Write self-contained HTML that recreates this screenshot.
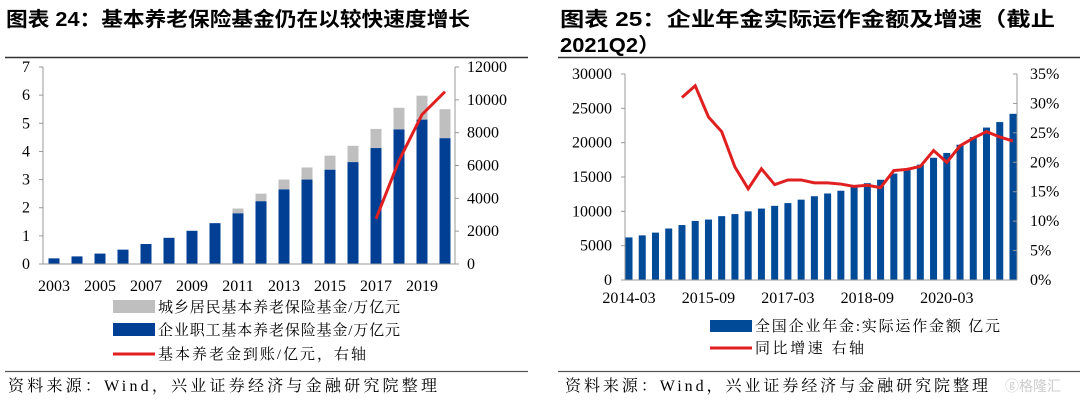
<!DOCTYPE html>
<html><head><meta charset="utf-8"><style>
body{margin:0;background:#fff;width:1080px;height:402px;overflow:hidden;font-family:"Liberation Serif","Noto Serif CJK SC",serif;}
</style></head><body>
<svg id="s" width="1080" height="402" xmlns="http://www.w3.org/2000/svg">
<g font-family="'Liberation Sans','Noto Sans CJK SC',sans-serif" font-weight="bold" font-size="20" fill="#000">
<text x="6" y="26" textLength="464" lengthAdjust="spacingAndGlyphs">图表 24：基本养老保险基金仍在以较快速度增长</text>
<text x="560" y="26" textLength="495" lengthAdjust="spacingAndGlyphs">图表 25：企业年金实际运作金额及增速（截止</text>
<text x="560" y="52" textLength="100" lengthAdjust="spacingAndGlyphs">2021Q2）</text>
</g>
<line x1="5" y1="57.5" x2="528" y2="57.5" stroke="#333" stroke-width="1.5"/>
<line x1="558" y1="57.5" x2="1080" y2="57.5" stroke="#333" stroke-width="1.5"/>
<line x1="5" y1="371.5" x2="528" y2="371.5" stroke="#555" stroke-width="1.2"/>
<line x1="558" y1="371.5" x2="1080" y2="371.5" stroke="#555" stroke-width="1.2"/>
<g font-size="16" fill="#000">
<text x="8" y="391" textLength="429" lengthAdjust="spacing">资料来源：Wind，兴业证券经济与金融研究院整理</text>
<text x="565" y="391" textLength="423" lengthAdjust="spacing">资料来源：Wind，兴业证券经济与金融研究院整理</text>
</g>
<text x="1005" y="391" font-size="14" fill="#ccc" font-family="'Noto Sans CJK SC',sans-serif">ⓖ格隆汇</text>
<g id="L"></g>
<g id="R"></g>
<g font-size="15" fill="#000">
<rect x="113" y="300" width="42" height="13" fill="#bfbfbf"/>
<text x="158" y="312" textLength="242" lengthAdjust="spacing">城乡居民基本养老保险基金/万亿元</text>
<rect x="113" y="323" width="42" height="13" fill="#003f94"/>
<text x="158" y="335" textLength="242" lengthAdjust="spacing">企业职工基本养老保险基金/万亿元</text>
<line x1="113" y1="354" x2="155" y2="354" stroke="#e02020" stroke-width="3"/>
<text x="158" y="359" textLength="208" lengthAdjust="spacing">基本养老金到账/亿元，右轴</text>
<rect x="710" y="320" width="42" height="12" fill="#004a98"/>
<text x="755" y="331" textLength="245" lengthAdjust="spacing">全国企业年金:实际运作金额 亿元</text>
<line x1="710" y1="348" x2="752" y2="348" stroke="#e02020" stroke-width="3"/>
<text x="755" y="353" textLength="109" lengthAdjust="spacing">同比增速 右轴</text>
</g>
</svg>
<script>
const leftYears=["2003","2004","2005","2006","2007","2008","2009","2010","2011","2012","2013","2014","2015","2016","2017","2018","2019","2020"];
const employeeFund=[0.2,0.27,0.37,0.51,0.71,0.93,1.18,1.45,1.8,2.23,2.65,3.0,3.35,3.62,4.12,4.78,5.13,4.47];
const totalFund=[0.2,0.27,0.37,0.51,0.71,0.93,1.18,1.46,1.97,2.5,3.0,3.43,3.85,4.2,4.8,5.55,5.98,5.5];
const pensionYears=["2017","2018","2019","2020"];
const pensionValues=[2750,6300,9100,10500];
const leftYTicks=[0,1,2,3,4,5,6,7];
const leftY2Ticks=[0,2000,4000,6000,8000,10000,12000];
const leftXLabels=["2003","2005","2007","2009","2011","2013","2015","2017","2019"];

const quarters=[];for(let y=2014;y<=2021;y++)for(const m of["03","06","09","12"]){if(quarters.length<30)quarters.push(y+"-"+m);}
const annuity=[6200,6500,6900,7500,8000,8600,8800,9300,9600,10000,10400,10800,11200,11700,12200,12600,13000,13600,14100,14600,15500,16000,16800,17800,18500,19700,20800,22200,23000,24200];
const growthStart=4;
const growth=[31,33,27.7,25.2,19.2,15.5,18.9,16.2,17,17,16.5,16.5,16.3,15.9,16.1,15.7,18.6,18.8,19.3,22,20,22.8,24.1,25.2,24.3,23.6];
const rightYTicks=[0,5000,10000,15000,20000,25000,30000];
const rightY2Ticks=[0,5,10,15,20,25,30,35];
const rightXLabels=["2014-03","2015-09","2017-03","2018-09","2020-03"];

const NS="http://www.w3.org/2000/svg";
function mk(p,t,a){const e=document.createElementNS(NS,t);for(const k in a)e.setAttribute(k,a[k]);p.appendChild(e);return e;}

const L=document.getElementById('L');
const lx0=43,lx1=455,ly0=264,ly1=67,lstep=23,lfirst=54;
const lX=i=>lfirst+i*lstep;
const lY=v=>ly0-(v/7)*(ly0-ly1);
const lY2=v=>ly0-(v/12000)*(ly0-ly1);
let e;
totalFund.forEach((v,i)=>{
 e=mk(L,'rect',{x:lX(i)-5.5,y:lY(v),width:11,height:lY(employeeFund[i])-lY(v),fill:'#bfbfbf'});
 
 
 e=mk(L,'rect',{x:lX(i)-5.5,y:lY(employeeFund[i]),width:11,height:ly0-lY(employeeFund[i]),fill:'#003f94'});
 
 
});
e=mk(L,'line',{x1:lx0,y1:ly1,x2:lx0,y2:ly0,stroke:'#999'});


e=mk(L,'line',{x1:lx1,y1:ly1,x2:lx1,y2:ly0,stroke:'#999'});


e=mk(L,'line',{x1:lx0,y1:ly0,x2:lx1,y2:ly0,stroke:'#999'});


leftYTicks.forEach(v=>{
 mk(L,'line',{x1:lx0-4,y1:lY(v),x2:lx0,y2:lY(v),stroke:'#999'});
 e=mk(L,'text',{x:30,y:lY(v)+5,'font-size':16,'text-anchor':'end'});e.textContent=v;
 
 
});
leftY2Ticks.forEach(v=>{
 mk(L,'line',{x1:lx1,y1:lY2(v),x2:lx1+4,y2:lY2(v),stroke:'#999'});
 e=mk(L,'text',{x:467,y:lY2(v)+5,'font-size':16});e.textContent=v;
 
 
});
leftXLabels.forEach(l=>{
 const i=leftYears.indexOf(l);
 e=mk(L,'text',{x:lX(i),y:291,'font-size':16,'text-anchor':'middle'});e.textContent=l;
 
 
});
e=mk(L,'polyline',{points:pensionValues.map((v,i)=>lX(leftYears.indexOf(pensionYears[i]))+','+lY2(v)).join(' '),fill:'none',stroke:'#e02020','stroke-width':3});



const R=document.getElementById('R');
const rx0=625,rx1=1017,ry0=280,ry1=74,rfirst=629,rstep=(1013-629)/29;
const rX=i=>rfirst+i*rstep;
const rY=v=>ry0-(v/30000)*(ry0-ry1);
const rY2=v=>ry0-(v/35)*(ry0-ry1);
annuity.forEach((v,i)=>{
 e=mk(R,'rect',{x:rX(i)-3.5,y:rY(v),width:7,height:ry0-rY(v),fill:'#004a98'});
 
 
});
e=mk(R,'line',{x1:rx0,y1:ry1,x2:rx0,y2:ry0,stroke:'#999'});


e=mk(R,'line',{x1:rx1,y1:ry1,x2:rx1,y2:ry0,stroke:'#999'});


e=mk(R,'line',{x1:rx0,y1:ry0,x2:rx1,y2:ry0,stroke:'#999'});


rightYTicks.forEach(v=>{
 mk(R,'line',{x1:rx0-4,y1:rY(v),x2:rx0,y2:rY(v),stroke:'#999'});
 e=mk(R,'text',{x:612,y:rY(v)+5,'font-size':16,'text-anchor':'end'});e.textContent=v;
 
 
});
rightY2Ticks.forEach(v=>{
 mk(R,'line',{x1:rx1-4,y1:rY2(v),x2:rx1,y2:rY2(v),stroke:'#999'});
 e=mk(R,'text',{x:1030,y:rY2(v)+5,'font-size':16});e.textContent=v+'%';
 
 
});
rightXLabels.forEach(l=>{
 const i=quarters.indexOf(l);
 e=mk(R,'text',{x:rX(i),y:303,'font-size':16,'text-anchor':'middle'});e.textContent=l;
 
 
});
e=mk(R,'polyline',{points:growth.map((v,i)=>rX(i+growthStart)+','+rY2(v)).join(' '),fill:'none',stroke:'#e02020','stroke-width':3});


</script>
</body></html>
